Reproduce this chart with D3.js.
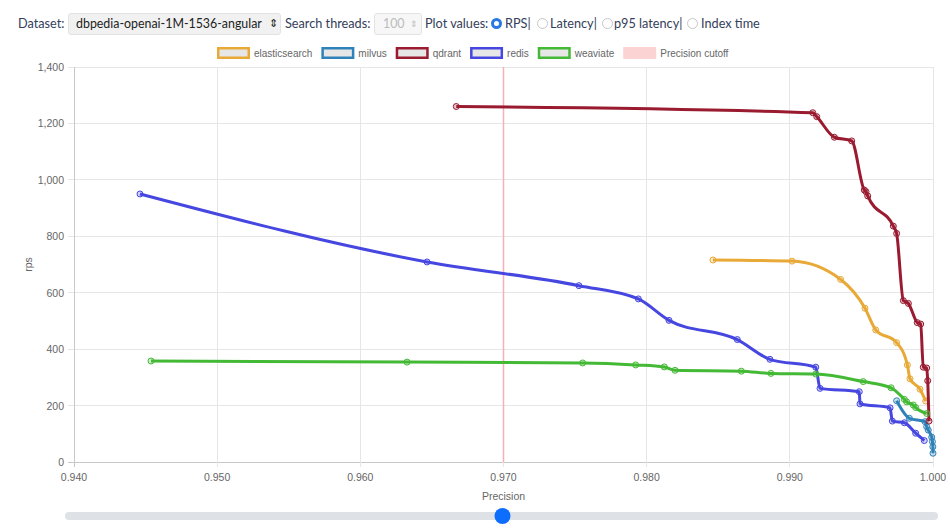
<!DOCTYPE html>
<html><head><meta charset="utf-8">
<script src="https://cdn.jsdelivr.net/npm/d3@7"></script>
<style>
body{margin:0;background:#fff;width:950px;height:529px;overflow:hidden;position:relative;font-family:Lato,"Open Sans",sans-serif;}
.ctl{position:absolute;top:13px;height:21px;line-height:21px;font-size:12.7px;color:#34405a;white-space:nowrap;}
.sel{position:absolute;top:13px;height:20px;border:1px solid #e2e2e2;border-radius:3px;background:#f1f1f1;font-size:12.4px;line-height:20px;color:#222;white-space:nowrap;}
.radio{position:absolute;top:18px;width:11px;height:11px;border-radius:50%;border:1px solid #c8c8c8;box-sizing:border-box;}
.radio.on{border:3px solid #2a78e4;background:#fff;}
svg{position:absolute;left:0;top:0;}
</style></head><body>
<div class="ctl" style="left:18px">Dataset:</div>
<div class="sel" style="left:68px;width:211px;"><span style="position:absolute;left:7px;">dbpedia-openai-1M-1536-angular</span><span style="position:absolute;left:200px;font-size:11px;color:#111;top:-1px;">&#8661;</span></div>
<div class="ctl" style="left:285px">Search threads:</div>
<div class="sel" style="left:374px;width:46px;background:#f7f7f7;color:#bbb;"><span style="position:absolute;left:8px;">100</span><span style="position:absolute;left:35px;font-size:9px;color:#bbb;">&#8661;</span></div>
<div class="ctl" style="left:425px">Plot values:</div>
<span class="radio on" style="left:491px"></span><div class="ctl" style="left:505px">RPS|</div>
<span class="radio" style="left:537px"></span><div class="ctl" style="left:550px">Latency|</div>
<span class="radio" style="left:602px"></span><div class="ctl" style="left:614px">p95 latency|</div>
<span class="radio" style="left:687px"></span><div class="ctl" style="left:701px">Index time</div>
<svg id="chart" width="950" height="529"></svg>
<script>
const precisionTicks = [0.94, 0.95, 0.96, 0.97, 0.98, 0.99, 1.0];
const rpsTicks = [0, 200, 400, 600, 800, 1000, 1200, 1400];
const seriesNames = ["elasticsearch", "milvus", "qdrant", "redis", "weaviate"];
const seriesColors = ["#e9a936", "#2f82b9", "#9a1b30", "#4646e0", "#43b935"];
const precisionCutoff = 0.97;

const elasticsearch = [[0.98463,716],[0.99015,712],[0.99355,647],[0.99525,545],[0.99600,468],[0.99746,423],[0.99821,344],[0.99839,295],[0.99909,258],[0.99949,216]];
const milvus = [[0.99746,217],[0.99835,155],[0.99944,143],[0.99956,125],[0.99967,113],[0.99991,88],[0.99996,72],[0.99999,54],[1.0,31]];
const qdrant = [[0.96670,1260],[0.99160,1238],[0.99188,1224],[0.99311,1151],[0.99432,1138],[0.99520,964],[0.99532,958],[0.99544,943],[0.99723,836],[0.99746,810],[0.99793,572],[0.99828,562],[0.99890,494],[0.99914,489],[0.99932,336],[0.99956,333],[0.99963,288],[0.99972,145]];
const redis = [[0.94461,950],[0.96466,709],[0.97527,625],[0.97942,578],[0.98156,502],[0.98633,434],[0.98861,364],[0.99181,336],[0.99211,261],[0.99485,249],[0.99490,206],[0.99700,192],[0.99716,145],[0.99800,139],[0.99879,102],[0.99939,76]];
const weaviate = [[0.94538,358],[0.96326,354],[0.97553,351],[0.97923,344],[0.98123,337],[0.98198,325],[0.98661,322],[0.98868,314],[0.99181,312],[0.99513,285],[0.99707,263],[0.99800,222],[0.99816,213],[0.99862,202],[0.99879,193],[0.99956,172]];
const seriesData = [elasticsearch, milvus, qdrant, redis, weaviate];

const svg = d3.select("#chart");
const x = d3.scaleLinear().domain([0.94, 1.0]).range([74, 933]);
const y = d3.scaleLinear().domain([0, 1400]).range([462, 67]);
const font = "'Liberation Sans', Arial, sans-serif";

// grid
const g = svg.append("g");
g.selectAll(".hg").data(rpsTicks).enter().append("line")
  .attr("x1", 68).attr("x2", 933).attr("y1", d => y(d)).attr("y2", d => y(d))
  .attr("stroke", d => d === 0 ? "#c8c8c8" : "#e6e6e6").attr("stroke-width", 1).attr("shape-rendering","crispEdges");
g.selectAll(".vg").data(precisionTicks).enter().append("line")
  .attr("x1", d => x(d)).attr("x2", d => x(d)).attr("y1", 67).attr("y2", 467)
  .attr("stroke", d => d === 0.94 ? "#c8c8c8" : "#e6e6e6").attr("stroke-width", 1).attr("shape-rendering","crispEdges");

// tick labels
const fmtY = d3.format(",");
g.selectAll(".yl").data(rpsTicks).enter().append("text")
  .attr("x", 64).attr("y", d => y(d) + 4).attr("text-anchor", "end")
  .attr("font-family", font).attr("font-size", 10.5).attr("fill", "#666").text(d => fmtY(d));
g.selectAll(".xl").data(precisionTicks).enter().append("text")
  .attr("x", d => x(d)).attr("y", 481).attr("text-anchor", "middle")
  .attr("font-family", font).attr("font-size", 10.5).attr("fill", "#666").text(d => d3.format(".3f")(d));
g.append("text").attr("x", (74+933)/2).attr("y", 500).attr("text-anchor","middle")
  .attr("font-family", font).attr("font-size", 10.5).attr("fill", "#666").text("Precision");
g.append("text").attr("transform", "translate(32," + ((67+462)/2) + ") rotate(-90)").attr("text-anchor","middle")
  .attr("font-family", font).attr("font-size", 10.5).attr("fill", "#666").text("rps");

// precision cutoff
g.append("line").attr("x1", x(precisionCutoff)).attr("x2", x(precisionCutoff)).attr("y1", 67).attr("y2", 462)
  .attr("stroke", "#f5b0b8").attr("stroke-width", 1.5);

// series
const line = d3.line().x(d => x(d[0])).y(d => y(d[1])).curve(d3.curveMonotoneX);
seriesData.forEach((data, i) => {
  const c = seriesColors[i];
  svg.append("path").datum(data).attr("d", line).attr("fill", "none")
    .attr("stroke", c).attr("stroke-width", 3).attr("stroke-linejoin","round");
  svg.selectAll(".pt" + i).data(data).enter().append("circle")
    .attr("cx", d => x(d[0])).attr("cy", d => y(d[1])).attr("r", 3)
    .attr("fill", d3.color(c).copy({opacity: 0.25})).attr("stroke", c).attr("stroke-width", 1);
});

// legend
const legendItems = seriesNames.map((n, i) => ({name: n, color: seriesColors[i], cutoff: false}))
  .concat([{name: "Precision cutoff", color: "#f8cccc", cutoff: true}]);
const lg = svg.append("g");
let lx = 217;
legendItems.forEach(it => {
  if (it.cutoff) {
    lg.append("rect").attr("x", lx).attr("y", 47).attr("width", 33).attr("height", 12).attr("fill", "#fbd3d3");
  } else {
    lg.append("rect").attr("x", lx + 1.25).attr("y", 48.25).attr("width", 30.5).attr("height", 9.5)
      .attr("fill", "#e6e6e6").attr("stroke", it.color).attr("stroke-width", 2.5);
  }
  const t = lg.append("text").attr("x", lx + 37).attr("y", 57).attr("font-family", font)
    .attr("font-size", 10).attr("fill", "#666").text(it.name);
  lx += 37 + t.node().getComputedTextLength() + 9;
});

// slider
svg.append("rect").attr("x", 65).attr("y", 512).attr("width", 873).attr("height", 8).attr("rx", 4)
  .attr("fill", "#dee2e6");
svg.append("circle").attr("cx", x(precisionCutoff) - 1).attr("cy", 516).attr("r", 8).attr("fill", "#0d6efd");
</script>
</body></html>
